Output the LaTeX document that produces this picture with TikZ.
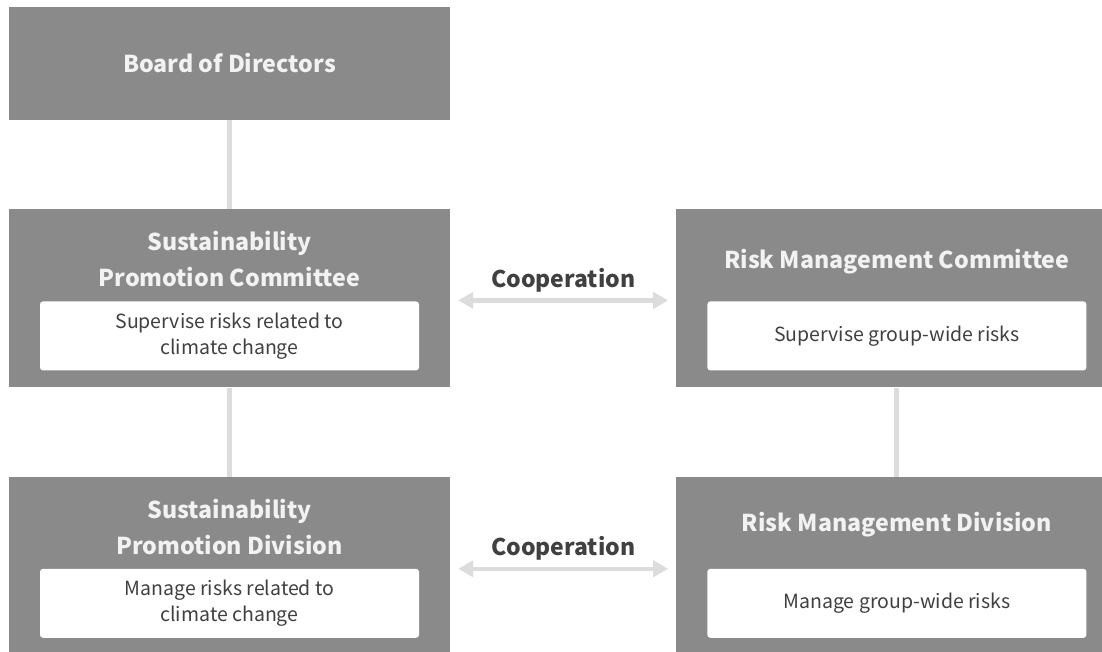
\documentclass[tikz,border=0pt]{standalone}
\usepackage{fontspec}
\setmainfont{Noto Sans CJK JP}
\usepackage{xcolor}
\usetikzlibrary{positioning, arrows.meta}
\definecolor{boxgray}{HTML}{8A8A8A}
\definecolor{linegray}{HTML}{DCDCDC}
\definecolor{textdark}{HTML}{404040}
\definecolor{titlewhite}{HTML}{F2F2F2}
\tikzstyle{link} = [line width=5pt, linegray]
\tikzstyle{coop} = [line width=4.5pt, linegray, {Triangle[length=15pt,width=16pt]}-{Triangle[length=15pt,width=16pt]}, shorten <=8pt, shorten >=8pt]
\tikzstyle{orgbox} = [rectangle, fill=boxgray, minimum width=441pt, minimum height=178pt, inner sep=0pt]
\tikzstyle{headtxt} = [text=titlewhite, font=\bfseries\fontsize{23.2}{36}\selectfont, align=center]
\tikzstyle{dutybox} = [rectangle, fill=white, rounded corners=3pt, minimum width=379pt, minimum height=69pt, inner sep=0pt, text=textdark, font=\fontsize{19.5}{26}\selectfont, align=center]
\tikzstyle{cooptxt} = [text=textdark, font=\bfseries\fontsize{23}{26}\selectfont]

\begin{document}
\begin{tikzpicture}[x=1pt, y=-1pt]
    \useasboundingbox (0,0) rectangle (1102,652);
    \clip (0,0) rectangle (1102,652);

    % Boxes
    \node (board) [orgbox, minimum height=113pt] at (229.5,63.5) {};
    \node (smc) [orgbox, below=89pt of board] {};
    \node (rmc) [orgbox, right=226pt of smc] {};
    \node (spd) [orgbox, below=89pt of smc] {};
    \node (rmd) [orgbox, below=89pt of rmc] {};

    % Titles
    \node [headtxt] at (board) {Board of Directors};
    \node [headtxt] at ([yshift=-50pt]smc.north) {Sustainability\\Promotion Committee};
    \node [headtxt] at ([yshift=-52pt]rmc.north) {Risk Management Committee};
    \node [headtxt] at ([yshift=-50pt]spd.north) {Sustainability\\Promotion Division};
    \node [headtxt] at ([yshift=-48pt]rmd.north) {Risk Management Division};

    % Duties
    \node (smcduty) [dutybox, above=17pt of smc.south] {Supervise risks related to\\climate change};
    \node (rmcduty) [dutybox, above=17pt of rmc.south] {Supervise group-wide risks};
    \node (spdduty) [dutybox, above=17pt of spd.south] {Manage risks related to\\climate change};
    \node (rmdduty) [dutybox, above=17pt of rmd.south] {Manage group-wide risks};

    % Connectors
    \draw [link] (board) -- (smc);
    \draw [link] (smc) -- (spd);
    \draw [link] (rmc) -- (rmd);
    \draw [coop] ([yshift=-2pt]smc.east) -- node[cooptxt, above=3pt] {Cooperation} ([yshift=-2pt]rmc.west);
    \draw [coop] ([yshift=-3pt]spd.east) -- node[cooptxt, above=3pt] {Cooperation} ([yshift=-3pt]rmd.west);
\end{tikzpicture}
\end{document}
